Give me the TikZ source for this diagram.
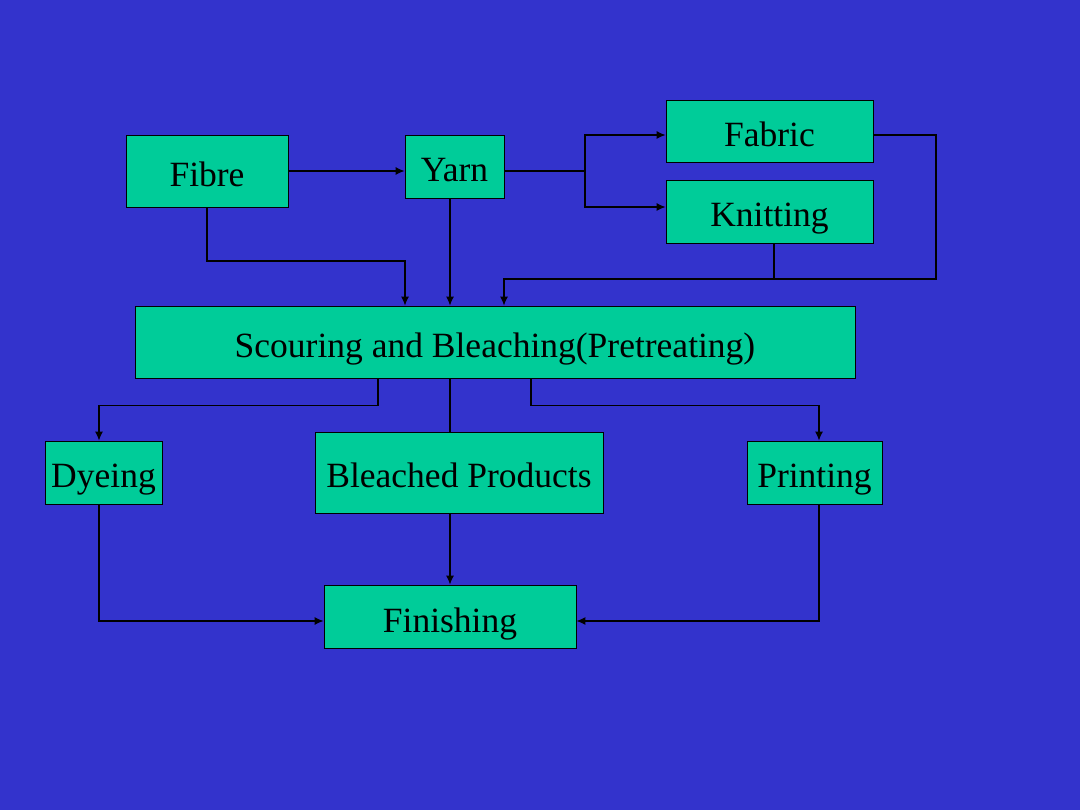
\documentclass[tikz,border=0pt]{standalone}
\usepackage{fontspec}
\setmainfont{Liberation Serif}
\usetikzlibrary{arrows, arrows.meta, positioning, calc}
\definecolor{slideblue}{RGB}{51,51,204}
\definecolor{boxgreen}{RGB}{0,204,153}

\begin{document}
\begin{tikzpicture}[x=1pt,y=-1pt,>={Latex[length=9pt,width=8pt]},line width=1.2pt,
		box/.style={rectangle,draw=black,line width=0.8pt,fill=boxgreen,inner sep=0pt,
			text height=31pt,text depth=0pt,font=\fontsize{35.5}{40}\selectfont}]
		
		\fill[slideblue] (0,0) rectangle (1080,810);
		\useasboundingbox (0,0) rectangle (1080,810);
		
		\node[box,minimum width=162pt,minimum height=72pt] (fibre) at (207,171) {Fibre};
		\node[box,minimum width=99pt,minimum height=63pt] (yarn) at (454.5,166.5) {Yarn};
		\node[box,minimum width=207pt,minimum height=62pt] (fabric) at (769.5,131) {Fabric};
		\node[box,minimum width=207pt,minimum height=63pt] (knit) at (769.5,211.5) {Knitting};
		\node[box,minimum width=720pt,minimum height=72pt] (scour) at (495,342) {Scouring and Bleaching(Pretreating)};
		\node[box,minimum width=117pt,minimum height=63pt] (dye) at (103.5,472.5) {Dyeing};
		\node[box,minimum width=288pt,minimum height=81pt] (bleach) at (459,472.5) {Bleached Products};
		\node[box,minimum width=135pt,minimum height=63pt] (print) at (814.5,472.5) {Printing};
		\node[box,minimum width=252pt,minimum height=63pt] (finish) at (450,616.5) {Finishing};
		
		\coordinate (mid) at (450,0);
		\coordinate (split) at (585,171);
		\coordinate (join) at (936,279);
		
		% first row
		\draw[->] (fibre.east) -- (fibre.east -| yarn.west);
		\draw (yarn.east |- split) -- (split);
		\draw[->] (split) |- ([yshift=-4pt]fabric.west);
		\draw[->] (split) |- ([yshift=4.5pt]knit.west);
		
		% into pretreating
		\draw[->] (fibre.south) -- (fibre.south |- 0,261) -| ([xshift=-90pt]scour.north);
		\draw[->] (yarn.south -| mid) -- (scour.north -| mid);
		\draw[->] ([yshift=-4pt]fabric.east) -| (join) -| ([xshift=9pt]scour.north);
		\draw ([xshift=4.5pt]knit.south) -- ([xshift=4.5pt]knit.south |- join);
		
		% out of pretreating
		\draw[->] ([xshift=-117pt]scour.south) -- ++(0,27) -| ([xshift=-4.5pt]dye.north);
		\draw (scour.south -| mid) -- (bleach.north -| mid);
		\draw[->] ([xshift=36pt]scour.south) -- ++(0,27) -| ([xshift=4.5pt]print.north);
		
		% finishing
		\draw[->] (bleach.south -| mid) -- (finish.north);
		\draw[->] ([xshift=-4.5pt]dye.south) |- ([yshift=-4.5pt]finish.west);
		\draw[->] ([xshift=4.5pt]print.south) |- ([yshift=-4.5pt]finish.east);
		
	\end{tikzpicture}
\end{document}
